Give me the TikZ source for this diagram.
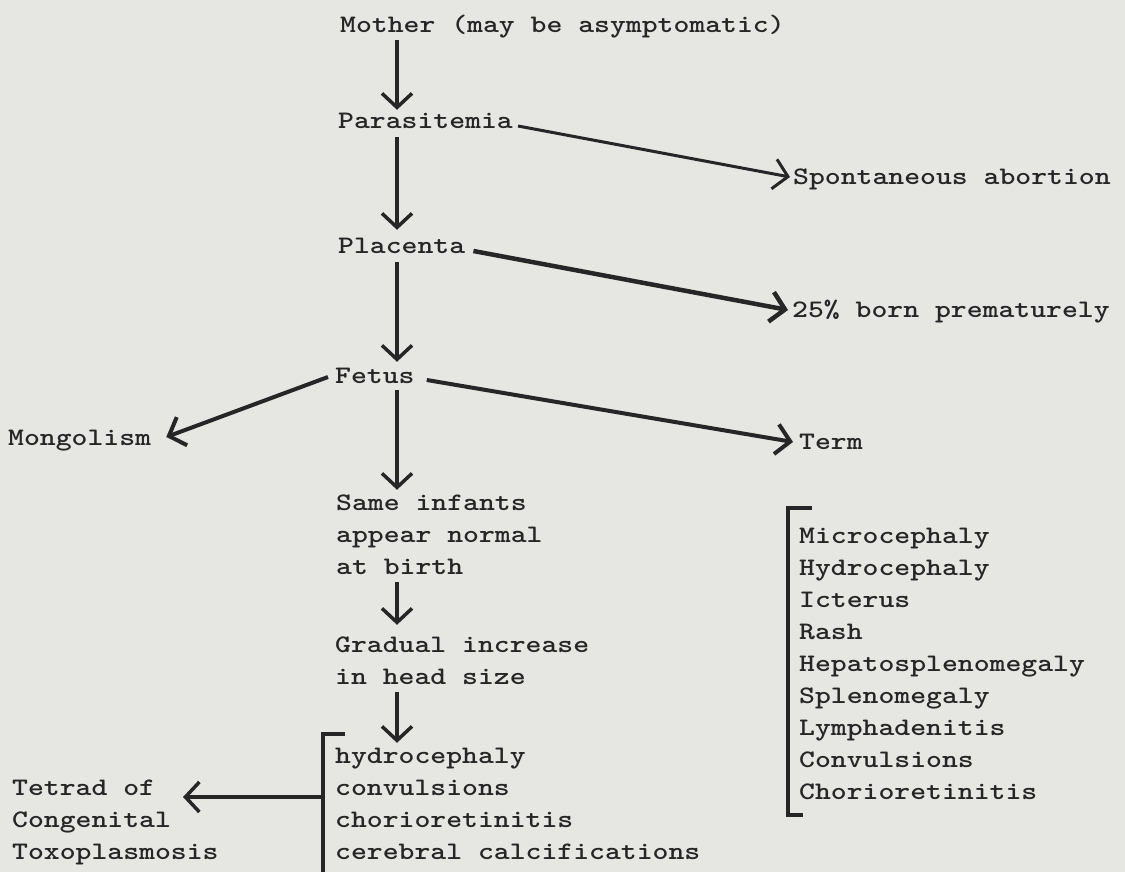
\documentclass[tikz,border=0pt]{standalone}
\usepackage{fontspec}
\newfontfamily\tw{lmmonolt10-bold.otf}[FakeStretch=1.2]
\usetikzlibrary{arrows.meta}
\definecolor{paper}{RGB}{230,230,227}
\definecolor{ink}{RGB}{38,38,38}
\newcommand\mystack[1]{\begin{tabular}[t]{@{}l@{}}#1\end{tabular}}
\begin{document}
\begin{tikzpicture}[x=1pt,y=-1pt,
  lbl/.style={anchor=base west, inner sep=0pt, text=ink, font=\tw\fontsize{25.2}{32}\selectfont, text height=16pt, text depth=5pt},
  lst/.style={anchor=base west, inner sep=0pt, text=ink, font=\tw\fontsize{25.2}{32}\selectfont},
  lstb/.style={anchor=base west, inner sep=0pt, text=ink, font=\tw\fontsize{25.2}{32.1}\selectfont},
  arr/.style={draw=ink, line width=3.5pt, -{Straight Barb[length=14pt,width=30pt]}},
  brk/.style={draw=ink, line width=3.5pt}]
\fill[paper] (0,0) rectangle (1125,872);
\useasboundingbox (0,0) rectangle (1125,872);

\node[lbl] (mother) at (340,33) {Mother (may be asymptomatic)};
\node[lbl] (para) at (338,129) {Parasitemia};
\node[lbl] (plac) at (338,253) {Placenta};
\node[lbl] (fetus) at (335,383) {Fetus};
\node[lbl] (mong) at (8,445) {Mongolism};
\node[lbl] (term) at (799,449) {Term};
\node[lbl] (spont) at (793,185) {Spontaneous abortion};
\node[lbl] (prem) at (792,317) {25\% born prematurely};
\node[lst] (same) at (336,510) {\mystack{Same infants\\appear normal\\at birth}};
\node[lst] (grad) at (335,652) {\mystack{Gradual increase\\in head size}};
\node[lst] (four) at (335,763) {\mystack{hydrocephaly\\convulsions\\chorioretinitis\\cerebral calcifications}};
\node[lst] (tetrad) at (12,795) {\mystack{Tetrad of\\Congenital\\Toxoplasmosis}};
\node[lstb] (signs) at (799,543) {\mystack{Microcephaly\\Hydrocephaly\\Icterus\\Rash\\Hepatosplenomegaly\\Splenomegaly\\Lymphadenitis\\Convulsions\\Chorioretinitis}};

\coordinate (col) at (397,0);
\draw[arr, shorten <=2pt, shorten >=3pt] (col |- mother.south) -- (col |- para.north);
\draw[arr, shorten <=3pt, shorten >=7pt] (col |- para.south) -- (col |- plac.north);
\draw[arr, shorten <=4pt, shorten >=5pt] (col |- plac.south) -- (col |- fetus.north);
\draw[arr, shorten <=2pt, shorten >=-2.4pt] (col |- fetus.south) -- (col |- same.north);
\draw[arr, shorten <=-1.6pt, shorten >=4.6pt] (col |- same.south) -- (col |- grad.north);
\draw[arr, shorten <=-1.6pt, shorten >=-2.4pt] (col |- grad.south) -- (col |- four.north);

\draw[arr, line width=3pt] ([shift={(5,-3)}]para.base east) -- ([shift={(-3,-8)}]spont.base west);
\draw[arr, line width=4.5pt] ([shift={(8,-2)}]plac.base east) -- ([shift={(-4,-7)}]prem.base west);
\draw[arr, line width=4pt] ([shift={(-7,-6)}]fetus.base west) -- ([shift={(15,-8)}]mong.base east);
\draw[arr, line width=4pt] ([shift={(12,-3)}]fetus.base east) -- ([shift={(-6,-7)}]term.base west);

\draw[brk] ([shift={(10,-29)}]four.base west) -| ([shift={(-12,120)}]four.base west);
\coordinate (bl) at ([shift={(-12,34)}]four.base west);
\draw[arr] (bl) -- ([shift={(171,2)}]tetrad.base west);

\draw[brk] ([shift={(13,-35)}]signs.base west) -| ([shift={(-11,272)}]signs.base west) -- ++(15,0);
\end{tikzpicture}
\end{document}
